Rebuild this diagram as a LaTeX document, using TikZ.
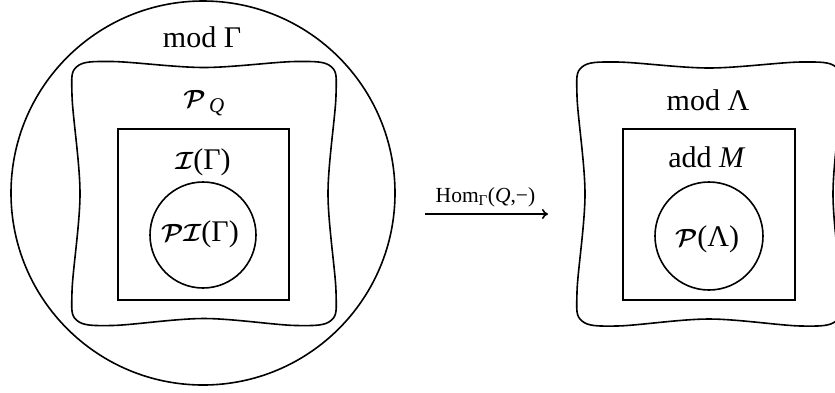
\documentclass[tikz,border=0pt]{standalone}
\usepackage{amsmath}
\usepackage[no-math]{fontspec}
\setmainfont{Liberation Serif}
\usetikzlibrary{arrows.meta}
\tikzset{
  shape line/.style={line width=1.6pt},
  big text/.style={anchor=base, inner sep=0pt, font=\fontsize{30}{34}\selectfont},
  small text/.style={anchor=base, inner sep=0pt, font=\fontsize{21.5}{24}\selectfont},
  map arrow/.style={line width=1.6pt, -{To[length=6pt,width=10pt]}},
}
\newcommand\calP{\boldsymbol{\mathcal{P}}}
\newcommand\calI{\boldsymbol{\mathcal{I}}}
\newcommand\blobshape{%
  plot[smooth cycle, tension=0.55] coordinates {
    (-127,-127) (-92,-132) (0,-126) (92,-132) (127,-127)
    (132,-98) (124,0) (132,98)
    (127,127) (92,132) (0,125) (-92,132) (-127,127)
    (-132,98) (-124,0) (-132,-98)}}
\begin{document}
\begin{tikzpicture}[x=1pt,y=-1pt]
\useasboundingbox (0,0) rectangle (835,392);
% left part
\draw[shape line] (203,193) circle[radius=192];
\begin{scope}[shift={(204,193.5)}]
  \draw[shape line] \blobshape;
\end{scope}
\draw[shape line] (118,129) rectangle (289,300);
\draw[shape line] (203,235) circle[radius=53];
\node[big text] (modG) at (202,47) {mod Γ};
\node[big text] (PQ) at (204,107) {$\calP_{\,\textit{Q}}$};
\node[big text] (IG) at (203,169) {$\calI$(Γ)};
\node[big text] (PIG) at (200,241) {$\calP\calI$(Γ)};
% arrow
\coordinate (a1) at (425,214);
\coordinate (a2) at (548,214);
\draw[map arrow] (a1) -- (a2);
\node[small text] (hom) at (485.5,202) {Hom$_{\text{Γ}}$(\textit{Q},−)};
% right part
\begin{scope}[shift={(709,194)}]
  \draw[shape line] \blobshape;
\end{scope}
\draw[shape line] (623,129) rectangle (795,300);
\draw[shape line] (709,236) circle[radius=54];
\node[big text] (modL) at (708,110) {mod Λ};
\node[big text] (addM) at (707,167) {add \textit{M}};
\node[big text] (PL) at (707,246) {$\calP$(Λ)};
\end{tikzpicture}
\end{document}
